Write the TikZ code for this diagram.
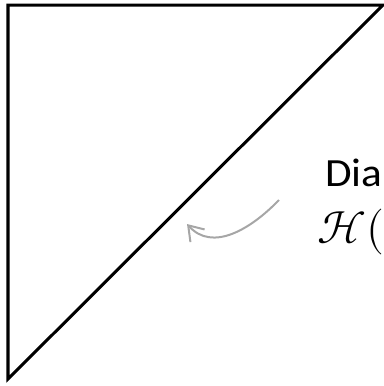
\documentclass[tikz,border=0pt]{standalone}
\usepackage{unicode-math}
\setmainfont{Carlito}
\setmathfont{Latin Modern Math}
\usetikzlibrary{arrows.meta}
\begin{document}
\begin{tikzpicture}[x=1bp,y=-1bp,
  edge/.style={line width=3bp,line join=miter},
  pointer/.style={draw={rgb,255:red,166;green,166;blue,166},line width=2bp,
    -{Straight Barb[length=14bp,width=19bp]}},
  lbl/.style={inner sep=0pt,anchor=base west,font=\fontsize{40bp}{44bp}\selectfont},
  mlbl/.style={inner sep=0pt,anchor=base west,font=\fontsize{46bp}{50bp}\selectfont}]
\useasboundingbox (0,0) rectangle (384,386);
\coordinate (tl) at (8,5);
\coordinate (tr) at (383,5);
\coordinate (bl) at (8,379);
\draw[edge] (tl) -- (tr) -- (bl) -- cycle;
\node[lbl,xscale=1.08] (t1) at (325,186) {Dia};
\node[mlbl] (t2) at (317,243) {$\mathcal{H}($};
\coordinate (as) at (279,200);
\coordinate (ae) at (187,224);
\draw[pointer] (as) .. controls (250,230) and (212,252) .. (ae);
\end{tikzpicture}
\end{document}
